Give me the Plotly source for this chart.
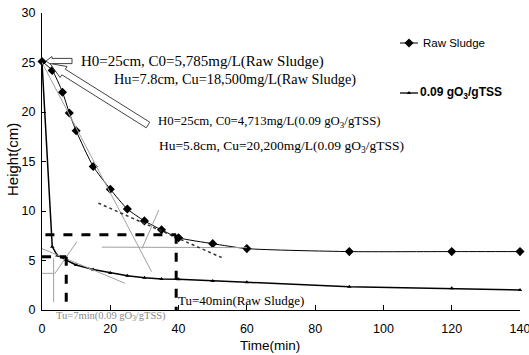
import math
import plotly.graph_objects as go

# ---------------- data ----------------
raw_time = [0, 3, 6, 8, 10, 15, 20, 25, 30, 35, 40, 50, 60, 90, 120, 140]
raw_height = [25.1, 24.2, 22.0, 19.9, 18.1, 14.5, 12.2, 10.2, 9.0, 8.1, 7.3, 6.7, 6.2, 5.9, 5.9, 5.9]

oz_time = [0, 3, 4.5, 6, 7, 10, 15, 20, 25, 30, 35, 40, 50, 60, 90, 120, 140]
oz_height = [25.0, 6.4, 5.5, 5.3, 5.05, 4.55, 4.1, 3.75, 3.45, 3.25, 3.13, 3.1, 2.93, 2.8, 2.36, 2.19, 2.02]

raw_name = "Raw Sludge"
oz_name = "<b>0.09 gO<sub>3</sub>/gTSS</b>"

x_ticks = [0, 20, 40, 60, 80, 100, 120, 140]
y_ticks = [0, 5, 10, 15, 20, 25, 30]

# construction (tangent / bisector) lines: (t0, h0, t1, h1)
raw_guides = [(0, 25, 32.1, 3.87), (17.5, 6.35, 60, 6.3), (29.3, 6.2, 34.2, 10.1)]
raw_dotted = (16.5, 10.8, 52.6, 5.3)
oz_guides = [(3.4, 5.2, 3.4, 0.8), (0, 3.7, 3.7, 3.7), (3.8, 3.7, 10.2, 6.9), (0, 6.2, 24.3, 2.7)]

# Tu read-off lines (time, height)
raw_tu = (39.3, 7.6)
oz_tu = (7.1, 5.38)

notes = [
    "H0=25cm, C0=5,785mg/L(Raw Sludge)",
    "Hu=7.8cm, Cu=18,500mg/L(Raw Sludge)",
    "H0=25cm, C0=4,713mg/L(0.09 gO<sub>3</sub>/gTSS)",
    "Hu=5.8cm, Cu=20,200mg/L(0.09 gO<sub>3</sub>/gTSS)",
]
tu_raw_text = "Tu=40min(Raw Sludge)"
tu_oz_text = "Tu=7min(0.09 gO<sub>3</sub>/gTSS)"

# ---------------- layout geometry ----------------
W, H = 529, 355
L, T, PW, PH = 42, 13, 478, 297
XR = [0, 140]
YR = [0, 30]


def px2t(px):
    return XR[0] + (px - L) / PW * (XR[1] - XR[0])


def py2h(py):
    return YR[0] + (T + PH - py) / PH * (YR[1] - YR[0])


def px2p(px):
    return (px - L) / PW


def py2p(py):
    return (T + PH - py) / PH


SERIF = "Liberation Serif, Times New Roman, serif"
SANS = "Liberation Sans, Arial, sans-serif"

fig = go.Figure()

shapes = []
for (a, b, c, d) in raw_guides + oz_guides:
    shapes.append(dict(type="line", xref="x", yref="y", x0=a, y0=b, x1=c, y1=d,
                       line=dict(color="#a0a0a0", width=1)))
a, b, c, d = raw_dotted
shapes.append(dict(type="line", xref="x", yref="y", x0=a, y0=b, x1=c, y1=d,
                   line=dict(color="#333", width=1.5, dash="dot")))

for (tt, hh), t0 in ((raw_tu, 1.0), (oz_tu, 0.0)):
    shapes.append(dict(type="line", xref="x", yref="y", x0=t0, y0=hh, x1=tt, y1=hh,
                       line=dict(color="black", width=3, dash="dash")))
    shapes.append(dict(type="line", xref="x", yref="y", x0=tt, y0=hh, x1=tt, y1=0,
                       line=dict(color="black", width=3, dash="dash")))


def arrow_path(tip, tail, head_len, head_half, shaft_half):
    dx, dy = tail[0] - tip[0], tail[1] - tip[1]
    ln = math.hypot(dx, dy)
    ux, uy = dx / ln, dy / ln
    nx, ny = -uy, ux
    bx, by = tip[0] + ux * head_len, tip[1] + uy * head_len
    pts = [
        tip,
        (bx + nx * head_half, by + ny * head_half),
        (bx + nx * shaft_half, by + ny * shaft_half),
        (tail[0] + nx * shaft_half, tail[1] + ny * shaft_half),
        (tail[0] - nx * shaft_half, tail[1] - ny * shaft_half),
        (bx - nx * shaft_half, by - ny * shaft_half),
        (bx - nx * head_half, by - ny * head_half),
    ]
    return "M " + " L ".join(f"{px2t(p[0]):.4f},{py2h(p[1]):.4f}" for p in pts) + " Z"


shapes.append(dict(type="path", xref="x", yref="y", path=arrow_path((46, 61), (72, 61), 6, 4.5, 2.6),
                   line=dict(color="#444", width=1), fillcolor="white", layer="above"))
shapes.append(dict(type="path", xref="x", yref="y", path=arrow_path((50, 63.5), (148, 125), 16, 6.5, 3.3),
                   line=dict(color="#444", width=1), fillcolor="white", layer="above"))

# legend keys (manual)
leg_rows = [(43, raw_name, "diamond", 7, 1), (93, oz_name, "triangle-up", 4, 1.3)]
for py, name, sym, ms, lw in leg_rows:
    shapes.append(dict(type="line", xref="x", yref="y", x0=px2t(400), x1=px2t(418),
                       y0=py2h(py), y1=py2h(py), line=dict(color="black", width=lw)))

fig.add_trace(go.Scatter(x=raw_time, y=raw_height, mode="lines+markers", name=raw_name,
                         line=dict(color="black", width=1, shape="spline", smoothing=0.6),
                         marker=dict(symbol="diamond", size=7, color="black"),
                         showlegend=False, cliponaxis=False))
fig.add_trace(go.Scatter(x=oz_time, y=oz_height, mode="lines+markers", name=oz_name,
                         line=dict(color="black", width=1.5),
                         marker=dict(symbol="triangle-up", size=4, color="black"),
                         showlegend=False, cliponaxis=False))

for py, name, sym, ms, lw in leg_rows:
    fig.add_trace(go.Scatter(x=[px2t(409)], y=[py2h(py)], mode="markers",
                             marker=dict(symbol=sym, size=ms, color="black"),
                             showlegend=False, cliponaxis=False, hoverinfo="skip"))

annotations = [
    dict(x=px2p(421), y=py2p(43), text=raw_name, font=dict(family=SANS, size=11.5, color="black")),
    dict(x=px2p(418), y=py2p(93), text=oz_name, font=dict(family=SANS, size=12, color="black")),
    dict(x=px2p(79), y=py2p(61), text=notes[0], font=dict(family=SERIF, size=15, color="black")),
    dict(x=px2p(112), y=py2p(80), text=notes[1], font=dict(family=SERIF, size=14.3, color="black")),
    dict(x=px2p(156), y=py2p(122), text=notes[2], font=dict(family=SERIF, size=12.8, color="black")),
    dict(x=px2p(157), y=py2p(146), text=notes[3], font=dict(family=SERIF, size=13.5, color="black")),
    dict(x=px2p(176), y=py2p(300), text=tu_raw_text, font=dict(family=SERIF, size=13, color="black")),
    dict(x=px2p(54), y=py2p(316), text=tu_oz_text, font=dict(family=SERIF, size=10.5, color="#8a8a8a")),
    dict(x=px2p(270), y=py2p(345), text="Time(min)", font=dict(family=SANS, size=13.5, color="black"),
         xanchor="center"),
    dict(x=px2p(12), y=py2p(160), text="Height(cm)", textangle=-90,
         font=dict(family=SANS, size=15, color="black"), xanchor="center"),
]
for an in annotations:
    an["xref"] = "paper"
    an["yref"] = "paper"
    an.setdefault("xanchor", "left")
    an.setdefault("yanchor", "middle")
    an["showarrow"] = False
fig.update_layout(annotations=annotations, shapes=shapes)

fig.update_layout(
    width=W, height=H,
    margin=dict(l=L, r=W - L - PW, t=T, b=H - T - PH, pad=0, autoexpand=False),
    paper_bgcolor="white", plot_bgcolor="white",
    showlegend=False,
    xaxis=dict(range=XR, tickvals=x_ticks, ticks="inside", ticklen=5, tickcolor="black",
               showline=True, linecolor="black", linewidth=1, showgrid=False, zeroline=False,
               automargin=False, ticklabeloverflow="allow",
               tickfont=dict(family=SANS, size=12.5, color="black"), ticklabelstandoff=7),
    yaxis=dict(range=YR, tickvals=y_ticks, ticks="inside", ticklen=4, tickcolor="black",
               showline=True, linecolor="black", linewidth=1, showgrid=False, zeroline=False,
               automargin=False, ticklabeloverflow="allow",
               tickfont=dict(family=SANS, size=12.5, color="black"), ticklabelstandoff=3),
)

fig.write_html("out.html", config={"displayModeBar": False},
               post_script="document.body.style.margin='0';document.body.style.overflow='hidden';")
